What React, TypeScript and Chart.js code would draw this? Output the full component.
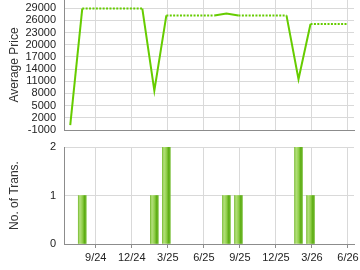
import { useEffect, useRef } from "react";
import { Chart, registerables } from "chart.js";

Chart.register(...registerables);

// ---- data ----
const months = [
  "2024-06", "2024-07", "2024-08", "2024-09", "2024-10", "2024-11",
  "2024-12", "2025-01", "2025-02", "2025-03", "2025-04", "2025-05",
  "2025-06", "2025-07", "2025-08", "2025-09", "2025-10", "2025-11",
  "2025-12", "2026-01", "2026-02", "2026-03", "2026-04", "2026-05",
];
const avgPrice = [
  200, 28900, 28900, 28900, 28900, 28900,
  28900, 8700, 27200, 27200, 27200, 27200,
  27200, 27700, 27200, 27200, 27200, 27200,
  27200, 11500, 25100, 25100, 25100, 25100,
];
const transCount = [
  0, 1, 0, 0, 0, 0,
  0, 1, 2, 0, 0, 0,
  0, 1, 1, 0, 0, 0,
  0, 2, 1, 0, 0, 0,
];
const xTickLabels = ["9/24", "12/24", "3/25", "6/25", "9/25", "12/25", "3/26", "6/26"];
const priceTicks = [-1000, 2000, 5000, 8000, 11000, 14000, 17000, 20000, 23000, 26000, 29000];
const countTicks = [0, 1, 2];

// ---- styling ----
const FONT = "'Liberation Sans', Arial, sans-serif";
const GREEN = "#66cc00";
const GRID = "#d9d9d9";
const AXIS = "#8c8c8c";
const TEXT = "#222222";
const X_MIN = 5.36;
const X_MAX = 29.5;
const MONTH_POINT = 0.88; // where in a month a monthly value sits

const monthPos = (m: string) => {
  const [y, mo] = m.split("-").map(Number);
  return (y - 2024) * 12 + (mo - 1) + MONTH_POINT;
};
const labelPos = (l: string) => {
  const [mo, y] = l.split("/").map(Number);
  return (y - 24) * 12 + (mo - 1);
};

Chart.defaults.font.family = FONT;

function commonX(showLabels: boolean): any {
  return {
    type: "linear",
    min: X_MIN,
    max: X_MAX,
    offset: false,
    afterBuildTicks: (s: any) => {
      s.ticks = xTickLabels.map((l) => ({ value: labelPos(l) }));
    },
    ticks: {
      display: showLabels,
      autoSkip: false,
      maxRotation: 0,
      color: TEXT,
      font: { size: 11, family: FONT },
      padding: 3,
      callback: (_v: any, i: number) => xTickLabels[i],
    },
    grid: {
      color: GRID,
      offset: false,
      drawTicks: showLabels,
      tickLength: 4,
      tickColor: AXIS,
    },
    border: { color: AXIS, width: 1 },
    afterFit: (s: any) => {
      s.paddingLeft = 0;
      s.paddingRight = 0;
      if (showLabels) s.height = 26;
    },
  };
}

function commonY(title: string, ticks: number[], min: number, max: number): any {
  return {
    min,
    max,
    afterBuildTicks: (s: any) => {
      s.ticks = ticks.map((v) => ({ value: v }));
    },
    ticks: {
      autoSkip: false,
      color: TEXT,
      font: { size: 11, family: FONT },
      padding: 8,
      callback: (v: any) => String(v),
    },
    grid: { color: GRID, drawTicks: false },
    border: { color: AXIS, width: 1 },
    title: {
      display: true,
      text: title,
      color: "#333333",
      font: { size: 12, family: FONT },
      padding: { top: 7, bottom: 0 },
    },
    afterFit: (s: any) => {
      s.width = 64;
      s.paddingTop = 0;
      s.paddingBottom = 0;
    },
  };
}

export default function App() {
  const topRef = useRef<HTMLCanvasElement>(null);
  const botRef = useRef<HTMLCanvasElement>(null);

  useEffect(() => {
    const top = new Chart(topRef.current!, {
      type: "line",
      data: {
        datasets: [
          {
            data: months.map((m, i) => ({ x: monthPos(m), y: avgPrice[i] })),
            borderColor: GREEN,
            borderWidth: 2,
            pointRadius: 0,
            tension: 0,
            segment: {
              borderDash: (c: any) => (transCount[c.p1DataIndex] === 0 ? [2, 1.4] : undefined),
            },
          } as any,
        ],
      },
      options: {
        animation: false,
        responsive: false,
        events: [],
        layout: { padding: { left: 0, right: 6, top: 0, bottom: 10 } },
        plugins: { legend: { display: false }, tooltip: { enabled: false } },
        scales: {
          x: commonX(false),
          y: commonY("Average Price", priceTicks, -1000, 31000),
        },
      } as any,
    });

    const barData = months
      .map((m, i) => ({ x: monthPos(m), y: transCount[i] }))
      .filter((d) => d.y > 0);

    const bot = new Chart(botRef.current!, {
      type: "bar",
      data: {
        datasets: [
          {
            data: barData,
            barThickness: 8,
            borderWidth: 0,
            backgroundColor: (c: any) => {
              const chart = c.chart;
              const xs = chart.scales && chart.scales.x;
              if (!xs || !c.parsed) return "#8cc84b";
              const px = xs.getPixelForValue(c.parsed.x);
              if (!Number.isFinite(px)) return "#8cc84b";
              const g = chart.ctx.createLinearGradient(px - 4, 0, px + 4, 0);
              g.addColorStop(0, "#7fc03a");
              g.addColorStop(0.2, "#b4e07c");
              g.addColorStop(0.5, "#93d04e");
              g.addColorStop(0.8, "#5aab10");
              g.addColorStop(1, "#78be38");
              return g;
            },
          } as any,
        ],
      },
      options: {
        animation: false,
        responsive: false,
        events: [],
        layout: { padding: { left: 0, right: 6, top: 7, bottom: 0 } },
        plugins: { legend: { display: false }, tooltip: { enabled: false } },
        scales: {
          x: commonX(true),
          y: commonY("No. of Trans.", countTicks, 0, 2),
        },
      } as any,
    });

    return () => {
      top.destroy();
      bot.destroy();
    };
  }, []);

  return (
    <div
      style={{
        position: "fixed",
        left: 0,
        top: 0,
        width: 360,
        height: 270,
        background: "#ffffff",
      }}
    >
      <canvas ref={topRef} width={360} height={140} style={{ position: "absolute", left: 0, top: 0 }} />
      <canvas ref={botRef} width={360} height={130} style={{ position: "absolute", left: 0, top: 140 }} />
    </div>
  );
}
